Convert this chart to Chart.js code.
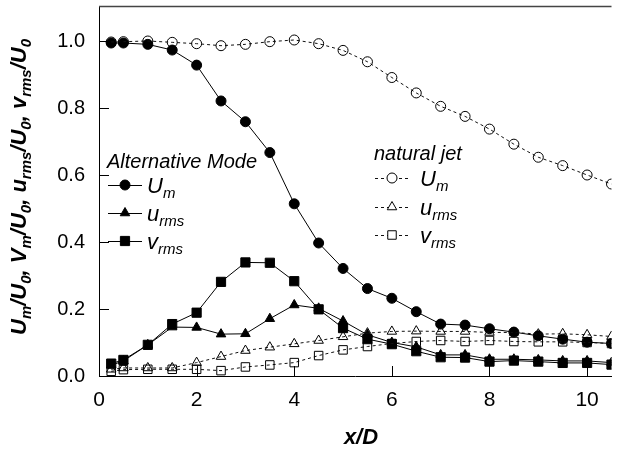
<!DOCTYPE html>
<html>
<head>
<meta charset="utf-8">
<script src="https://cdn.jsdelivr.net/npm/chart.js@4.4.1/dist/chart.umd.min.js"></script>
<style>
  html, body { margin: 0; padding: 0; background: #fff; overflow: hidden; }
  #wrap { width: 619px; height: 449px; }
</style>
</head>
<body>
<div id="wrap"><canvas id="chart" width="619" height="449"></canvas></div>
<script>
// ---------- Data ----------
const xPos = [0.25, 0.5, 1.0, 1.5, 2.0, 2.5, 3.0, 3.5, 4.0, 4.5, 5.0, 5.5, 6.0, 6.5, 7.0, 7.5, 8.0, 8.5, 9.0, 9.5, 10.0, 10.5];

// alternative mode (filled markers, solid lines)
const altUm   = [0.994, 0.994, 0.990, 0.973, 0.928, 0.821, 0.759, 0.667, 0.514, 0.397, 0.321, 0.261, 0.232, 0.192, 0.155, 0.152, 0.141, 0.131, 0.120, 0.110, 0.101, 0.097];
const altUrms = [0.032, 0.045, 0.093, 0.146, 0.145, 0.125, 0.126, 0.171, 0.212, 0.202, 0.164, 0.123, 0.100, 0.087, 0.063, 0.063, 0.050, 0.050, 0.048, 0.045, 0.045, 0.040];
const altVrms = [0.037, 0.048, 0.093, 0.155, 0.189, 0.281, 0.339, 0.338, 0.283, 0.199, 0.143, 0.110, 0.095, 0.074, 0.056, 0.055, 0.043, 0.046, 0.043, 0.039, 0.039, 0.034];

// natural jet (open markers, dashed lines)
const natUm   = [0.997, 0.998, 1.000, 0.996, 0.992, 0.986, 0.990, 0.998, 1.003, 0.992, 0.972, 0.938, 0.891, 0.845, 0.805, 0.775, 0.737, 0.692, 0.653, 0.628, 0.600, 0.573];
const natUrms = [0.020, 0.024, 0.024, 0.024, 0.040, 0.058, 0.076, 0.086, 0.096, 0.106, 0.117, 0.128, 0.133, 0.134, 0.133, 0.133, 0.130, 0.130, 0.125, 0.126, 0.123, 0.118];
const natVrms = [0.014, 0.019, 0.020, 0.020, 0.020, 0.016, 0.027, 0.033, 0.040, 0.061, 0.078, 0.088, 0.097, 0.103, 0.106, 0.103, 0.106, 0.103, 0.102, 0.102, 0.100, 0.097];

const xTicks = [0, 2, 4, 6, 8, 10];
const yTicks = [0, 0.2, 0.4, 0.6, 0.8, 1.0];

const FONT = '"Liberation Sans", Arial, sans-serif';

// ---------- Helpers ----------
function toPoints(ys) {
  return xPos.map((x, i) => ({ x: x, y: ys[i] }));
}

function solidSet(label, ys, style, radius) {
  return {
    label: label,
    data: toPoints(ys),
    borderColor: "#000",
    borderWidth: 1,
    pointStyle: style,
    pointRadius: radius,
    pointBackgroundColor: "#000",
    pointBorderColor: "#000",
    pointBorderWidth: 1
  };
}

function dashedSet(label, ys, style, radius) {
  return {
    label: label,
    data: toPoints(ys),
    borderColor: "#111",
    borderWidth: 1,
    borderDash: [3, 3],
    pointStyle: style,
    pointRadius: radius,
    pointBackgroundColor: "rgba(0,0,0,0)",
    pointBorderColor: "#000",
    pointBorderWidth: 1
  };
}

function richWidth(ctx, parts, main, sub) {
  let w = 0;
  parts.forEach(([t, s]) => {
    ctx.font = s ? sub : main;
    w += ctx.measureText(t).width;
  });
  return w;
}

// draws text pieces [text, isSub] starting at x on baseline y
function drawRich(ctx, parts, x, y, main, sub, subDrop) {
  parts.forEach(([t, s]) => {
    ctx.font = s ? sub : main;
    ctx.fillText(t, x, y + (s ? subDrop : 0));
    x += ctx.measureText(t).width;
  });
}

// ---------- Annotation plugin ----------
const decorations = {
  id: "decorations",
  afterDraw(chart) {
    const ctx = chart.ctx;
    const area = chart.chartArea;
    const xs = chart.scales.x;
    const ys = chart.scales.y;

    ctx.save();
    // top frame line
    ctx.strokeStyle = "#444";
    ctx.lineWidth = 1.5;
    ctx.beginPath();
    ctx.moveTo(area.left, area.top - 1);
    ctx.lineTo(area.right, area.top - 1);
    ctx.stroke();

    // inside ticks
    ctx.strokeStyle = "#000";
    ctx.lineWidth = 1;
    ctx.beginPath();
    xTicks.forEach(v => {
      const px = Math.round(xs.getPixelForValue(v)) + 0.5;
      ctx.moveTo(px, area.bottom);
      ctx.lineTo(px, area.bottom - 10);
    });
    yTicks.forEach(v => {
      const py = Math.round(ys.getPixelForValue(v)) + 0.5;
      ctx.moveTo(area.left, py);
      ctx.lineTo(area.left + 10, py);
    });
    ctx.stroke();

    ctx.fillStyle = "#000";
    ctx.textBaseline = "alphabetic";
    ctx.textAlign = "left";

    // x axis title
    ctx.font = "italic bold 22px " + FONT;
    const xt = "x/D";
    ctx.fillText(xt, 361 - ctx.measureText(xt).width / 2, 444);

    // y axis title (rotated)
    const yMain = "italic bold 22px " + FONT;
    const ySub = "italic bold 15px " + FONT;
    const yParts = [
      ["U", 0], ["m", 1], ["/U", 0], ["0", 1], [", V", 0], ["m", 1], ["/U", 0], ["0", 1],
      [", u", 0], ["rms", 1], ["/U", 0], ["0", 1], [", v", 0], ["rms", 1], ["/U", 0], ["0", 1]
    ];
    ctx.save();
    ctx.translate(26, 187);
    ctx.rotate(-Math.PI / 2);
    const yw = richWidth(ctx, yParts, yMain, ySub);
    drawRich(ctx, yParts, -yw / 2, 0, yMain, ySub, 5);
    ctx.restore();

    // legends
    const titleFont = "italic 20px " + FONT;
    const labMain = "italic 22px " + FONT;
    const labSub = "italic 15px " + FONT;
    const labels = [
      [["U", 0], ["m", 1]],
      [["u", 0], ["rms", 1]],
      [["v", 0], ["rms", 1]]
    ];

    function legendGroup(title, tx, ty, rows, x0, x1, mx, textX, sets) {
      ctx.font = titleFont;
      ctx.fillStyle = "#000";
      ctx.fillText(title, tx, ty);
      rows.forEach((ry, i) => {
        const ds = sets[i];
        ctx.save();
        ctx.strokeStyle = ds.borderColor;
        ctx.lineWidth = 1;
        ctx.setLineDash(ds.borderDash || []);
        ctx.beginPath();
        ctx.moveTo(x0, ry + 0.5);
        ctx.lineTo(x1, ry + 0.5);
        ctx.stroke();
        ctx.setLineDash([]);
        ctx.fillStyle = ds.pointBackgroundColor === "#000" ? "#000" : "#fff";
        ctx.strokeStyle = "#000";
        Chart.helpers.drawPoint(ctx, {
          pointStyle: ds.pointStyle,
          radius: ds.pointRadius,
          rotation: 0,
          borderWidth: 1
        }, mx, ry);
        ctx.restore();
        ctx.fillStyle = "#000";
        drawRich(ctx, labels[i], textX, ry + 7.5, labMain, labSub, 5);
      });
    }

    const dsets = chart.data.datasets;
    legendGroup("Alternative Mode", 107, 168, [185, 213, 241], 108, 142, 125, 147, [dsets[3], dsets[4], dsets[5]]);
    legendGroup("natural jet", 374, 160, [178, 207, 235], 375, 410, 392, 420, [dsets[0], dsets[1], dsets[2]]);

    ctx.restore();
  }
};

// ---------- Chart ----------
const ctx = document.getElementById("chart").getContext("2d");

new Chart(ctx, {
  type: "line",
  data: {
    datasets: [
      dashedSet("natural Um", natUm, "circle", 5),
      dashedSet("natural urms", natUrms, "triangle", 5.5),
      dashedSet("natural vrms", natVrms, "rect", 6),
      solidSet("alt Um", altUm, "circle", 5),
      solidSet("alt urms", altUrms, "triangle", 5.5),
      solidSet("alt vrms", altVrms, "rect", 6.5)
    ]
  },
  options: {
    responsive: false,
    animation: false,
    events: [],
    layout: { padding: { top: 6, left: 0, right: 0, bottom: 0 } },
    elements: { line: { tension: 0 } },
    plugins: {
      legend: { display: false },
      tooltip: { enabled: false }
    },
    scales: {
      x: {
        type: "linear",
        min: 0,
        max: 10.5,
        afterBuildTicks: scale => { scale.ticks = xTicks.map(v => ({ value: v })); },
        afterFit: scale => {
          scale.height = 73;
          scale.paddingLeft = 0;
          scale.paddingRight = 0;
        },
        grid: { display: false, drawTicks: false },
        border: { display: true, color: "#000", width: 1 },
        ticks: {
          padding: 12,
          color: "#000",
          font: { family: FONT, size: 21 },
          maxRotation: 0,
          callback: v => String(v)
        }
      },
      y: {
        type: "linear",
        min: 0,
        max: 1.1,
        afterBuildTicks: scale => { scale.ticks = yTicks.map(v => ({ value: v })); },
        afterFit: scale => {
          scale.width = 99;
          scale.paddingTop = 0;
          scale.paddingBottom = 0;
        },
        grid: { display: false, drawTicks: false },
        border: { display: true, color: "#000", width: 1 },
        ticks: {
          padding: 14,
          color: "#000",
          font: { family: FONT, size: 20 },
          callback: v => v.toFixed(1)
        }
      }
    }
  },
  plugins: [decorations]
});
</script>
</body>
</html>
